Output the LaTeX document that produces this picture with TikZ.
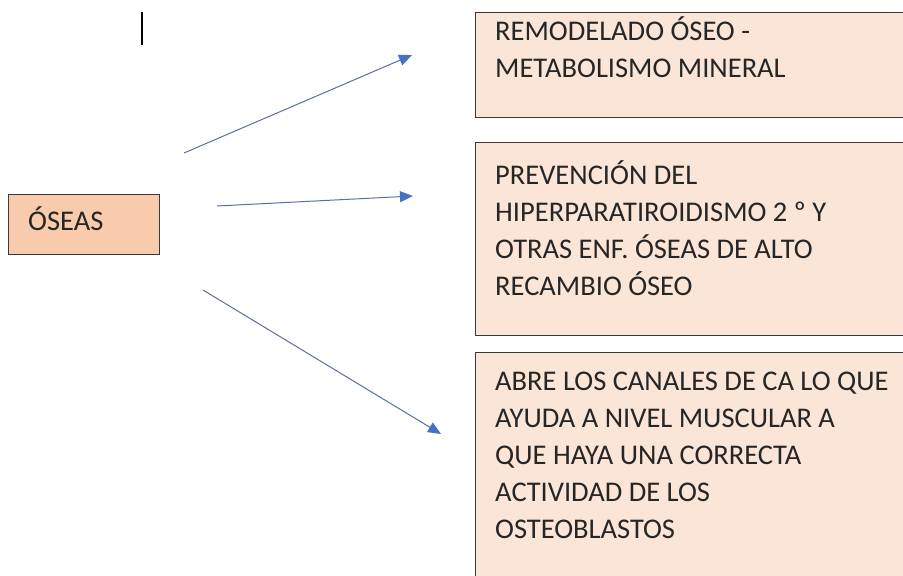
\documentclass[tikz,border=0pt]{standalone}
\usepackage{fontspec}
\setmainfont{Carlito}
\usetikzlibrary{arrows.meta}
\definecolor{darkpeach}{HTML}{F8CBAD}
\definecolor{lightpeach}{HTML}{FBE5D6}
\definecolor{arrowblue}{HTML}{4472C4}
\definecolor{arrowline}{HTML}{5B6FA0}
\definecolor{boxborder}{HTML}{3A3A3A}
\tikzset{
  rbox/.style={draw=boxborder, line width=1pt, fill=lightpeach, rectangle, inner sep=0pt, anchor=north west},
  lbox/.style={draw=boxborder, line width=1pt, fill=darkpeach, rectangle, inner sep=0pt, anchor=north west},
  label text/.style={font=\fontsize{28.5}{37}\selectfont, text=black!85, align=left, inner sep=0pt, anchor=base west},
  conn/.style={draw=arrowline, line width=1pt, -{Triangle[length=13pt,width=11pt,color=arrowblue]}}
}
\begin{document}
\begin{tikzpicture}[x=1pt,y=-1pt]
\path[use as bounding box] (0,0) rectangle (903,576);
\clip (0,0) rectangle (903,576);
\fill[white] (0,0) rectangle (903,576);
% cursor
\draw[line width=1.4pt, black] (142,12) -- (142,45);
% boxes
\node[lbox, minimum width=151pt, minimum height=60pt] (osea) at (8,194) {};
\node[rbox, minimum width=460pt, minimum height=105pt] (b1) at (475,12) {};
\node[rbox, minimum width=460pt, minimum height=193pt] (b2) at (475,142) {};
\node[rbox, minimum width=460pt, minimum height=260pt] (b3) at (475,352) {};
% texts (anchored at the baseline of their last line)
\node[label text] (oseat) at (28,230) {ÓSEAS};
\node[label text] (t1) at (495,77) {REMODELADO ÓSEO -\\METABOLISMO MINERAL};
\node[label text] (t2) at (495,295) {PREVENCIÓN DEL\\HIPERPARATIROIDISMO 2 º Y\\OTRAS ENF. ÓSEAS DE ALTO\\RECAMBIO ÓSEO};
\node[label text] (t3) at (495,538) {ABRE LOS CANALES DE CA LO QUE\\AYUDA A NIVEL MUSCULAR A\\QUE HAYA UNA CORRECTA\\ACTIVIDAD DE LOS\\OSTEOBLASTOS};
% arrows
\coordinate (a1s) at (184,153);
\coordinate (a1e) at (412,55);
\coordinate (a2s) at (217,206);
\coordinate (a2e) at (413,196);
\coordinate (a3s) at (203,290);
\coordinate (a3e) at (441,434);
\draw[conn] (a1s) -- (a1e);
\draw[conn] (a2s) -- (a2e);
\draw[conn] (a3s) -- (a3e);
\end{tikzpicture}
\end{document}
